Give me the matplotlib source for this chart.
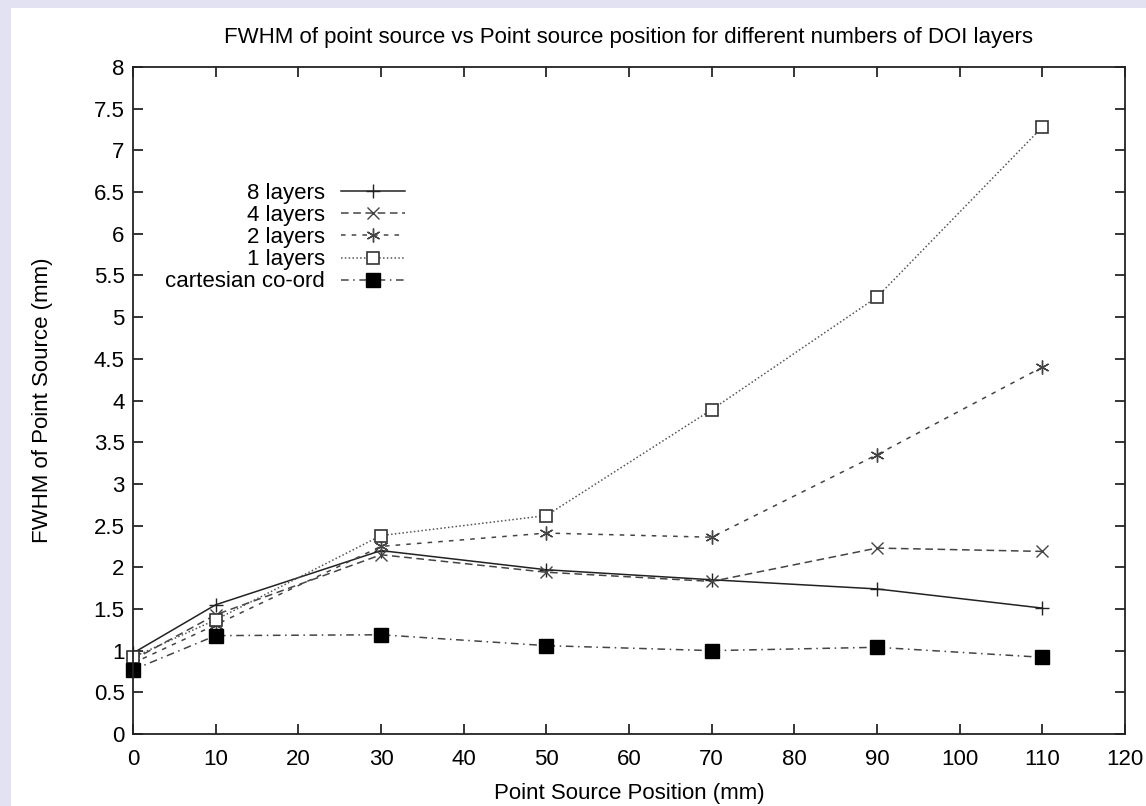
import matplotlib
matplotlib.use("Agg")
import matplotlib.pyplot as plt
from matplotlib.patches import Rectangle

plt.rcParams['font.family'] = ['Liberation Sans', 'DejaVu Sans']

# Point source positions (mm)
positions = [0, 10, 30, 50, 70, 90, 110]

# FWHM of point source (mm) per configuration
fwhm_8_layers = [0.97, 1.55, 2.20, 1.97, 1.85, 1.74, 1.51]
fwhm_4_layers = [0.89, 1.43, 2.15, 1.94, 1.83, 2.23, 2.19]
fwhm_2_layers = [0.85, 1.31, 2.25, 2.41, 2.36, 3.35, 4.40]
fwhm_1_layers = [0.92, 1.37, 2.38, 2.62, 3.89, 5.24, 7.28]
fwhm_cartesian = [0.77, 1.18, 1.19, 1.06, 1.00, 1.04, 0.92]

series_labels = ['8 layers', '4 layers', '2 layers', '1 layers', 'cartesian co-ord']

FS = 16
W, H = 1146, 806
fig = plt.figure(figsize=(W / 100, H / 100), dpi=100, facecolor='#e2e2f2')
# white page inside the lavender frame
fig.patches.append(Rectangle((11 / W, 0), 1, 1 - 8 / H, transform=fig.transFigure,
                             facecolor='white', edgecolor='none', zorder=-5))

ax = fig.add_axes([133 / W, 1 - 734 / H, (1125 - 133) / W, (734 - 67) / H])
ax.set_facecolor('white')

ax.plot(positions, fwhm_8_layers, color='#222222', lw=1.1, ls='-',
        marker='+', ms=10, mew=1.0, label=series_labels[0], clip_on=False)
ax.plot(positions, fwhm_4_layers, color='#444444', lw=1.1, ls=(0, (5, 3)),
        marker='x', ms=8, mew=1.0, label=series_labels[1], clip_on=False)
ax.plot(positions, fwhm_2_layers, color='#444444', lw=1.1, ls=(0, (3, 4)),
        marker=(6, 2, 0), ms=10, mew=1.0, label=series_labels[2], clip_on=False)
ax.plot(positions, fwhm_1_layers, color='#555555', lw=1.1, ls=(0, (1, 1.5)),
        marker='s', ms=8.5, mfc='white', mec='#333333', mew=1.2,
        label=series_labels[3], clip_on=False)
ax.plot(positions, fwhm_cartesian, color='#444444', lw=1.1, ls=(0, (5, 3, 1, 3)),
        marker='s', ms=9.5, mfc='black', mec='black', label=series_labels[4],
        clip_on=False)

ax.set_xlim(0, 120)
ax.set_ylim(0, 8)
ax.set_xticks(range(0, 121, 10))
ax.set_yticks([i * 0.5 for i in range(17)])
ax.set_yticklabels(['0', '0.5', '1', '1.5', '2', '2.5', '3', '3.5', '4', '4.5',
                    '5', '5.5', '6', '6.5', '7', '7.5', '8'])
ax.tick_params(direction='in', length=7, width=1.1, top=True, right=True,
               labelsize=FS, pad=6, colors='black')
ax.tick_params(axis='x', pad=11)
for sp in ax.spines.values():
    sp.set_linewidth(1.3)
    sp.set_color('#222222')

ax.set_title('FWHM of point source vs Point source position for different numbers of DOI layers',
             fontsize=FS, pad=17)
ax.set_xlabel('Point Source Position (mm)', fontsize=FS, labelpad=9)
ax.set_ylabel('FWHM of Point Source (mm)', fontsize=FS, labelpad=29)

ax.legend(loc='upper right', bbox_to_anchor=(405 / W, 1 - 183 / H),
          bbox_transform=fig.transFigure, frameon=False, markerfirst=False,
          fontsize=FS, handlelength=2.9, handletextpad=0.7, labelspacing=0.05,
          borderpad=0, borderaxespad=0)

fig.savefig('out.png', dpi=100, facecolor=fig.get_facecolor())
